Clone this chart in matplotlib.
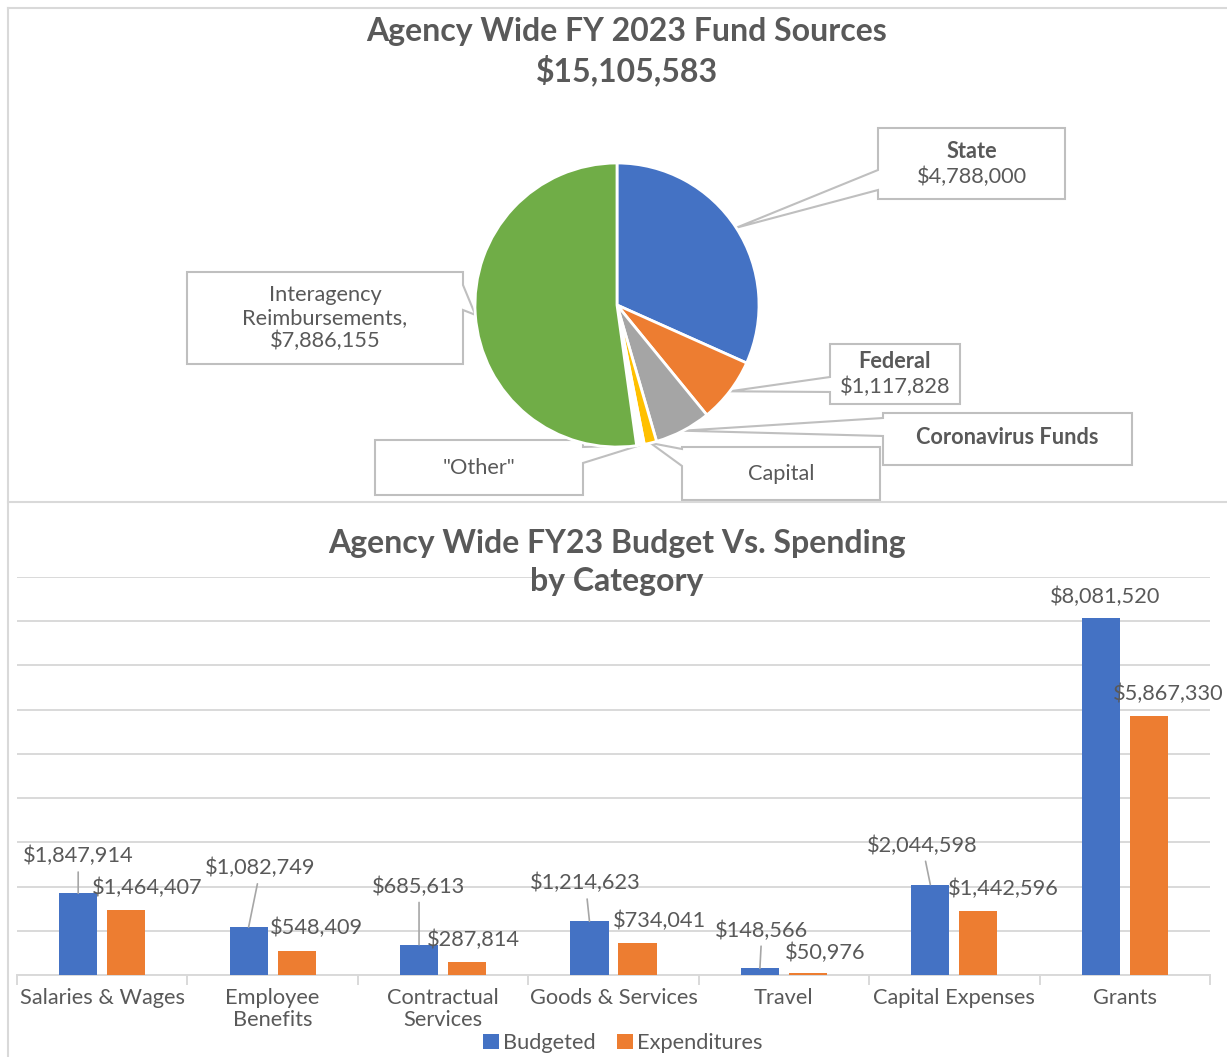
import matplotlib.pyplot as plt
import numpy as np
from matplotlib.patches import Polygon

plt.rcParams['font.family'] = ['Lato', 'DejaVu Sans']

# ---- data ----
fund_labels = ["State", "Federal", "Coronavirus Funds", "Capital", '"Other"', "Interagency Reimbursements"]
fund_values = [4788000, 1117828, 968000, 214000, 131600, 7886155]
fund_colors = ["#4472C4", "#ED7D31", "#A5A5A5", "#FFC000", "#FFFFFF", "#70AD47"]
fund_total = 15105583

categories = ["Salaries & Wages", "Employee\nBenefits", "Contractual\nServices", "Goods & Services",
              "Travel", "Capital Expenses", "Grants"]
budgeted = [1847914, 1082749, 685613, 1214623, 148566, 2044598, 8081520]
expenditures = [1464407, 548409, 287814, 734041, 50976, 1442596, 5867330]

TXT = "#595959"
LINE = "#D9D9D9"
W, H = 1227, 1057

fig = plt.figure(figsize=(W / 100, H / 100), dpi=100)

# overlay in pixel coordinates for borders, titles and callouts
ov = fig.add_axes([0, 0, 1, 1], zorder=0)
ov.set_xlim(0, W)
ov.set_ylim(H, 0)
ov.axis("off")

ov.plot([8, W], [8, 8], color=LINE, lw=1.5)
ov.plot([8, 8], [8, H], color=LINE, lw=1.5)
ov.plot([8, W], [502, 502], color=LINE, lw=1.5)

ov.text(627, 32, "Agency Wide FY 2023 Fund Sources", ha="center", va="center",
        fontsize=23, fontweight="bold", color=TXT)
ov.text(627, 70, "$" + format(fund_total, ","), ha="center", va="center",
        fontsize=23, fontweight="bold", color=TXT)

# ---- pie ----
cx, cy, r = 617, 305, 142
axp = fig.add_axes([(cx - r) / W, (H - cy - r) / H, 2 * r / W, 2 * r / H], zorder=1)
wedges, _ = axp.pie(fund_values, colors=fund_colors, startangle=90, counterclock=False,
                    wedgeprops=dict(edgecolor="white", linewidth=2))
axp.set_xlim(-1, 1)
axp.set_ylim(-1, 1)
axp.set_aspect("equal")
axp.patch.set_alpha(0)

# callout boxes: (x0, y0, x1, y1), side of pointer, pointer base on box edge
boxes = [(878, 128, 1065, 199), (830, 344, 960, 404), (883, 413, 1132, 465),
         (682, 447, 880, 500), (375, 440, 583, 495), (187, 272, 463, 364)]
sides = ["left", "left", "left", "left", "right", "right"]
bases = [(170, 190), (377, 392), (418, 436), (449, 466), (447, 463), (285, 310)]

def fmt(v):
    return "$" + format(v, ",")

for i, w in enumerate(wedges):
    mid = np.deg2rad((w.theta1 + w.theta2) / 2)
    disp = axp.transData.transform((np.cos(mid), np.sin(mid)))
    ax_, ay_ = ov.transData.inverted().transform(disp)
    x0, y0, x1, y1 = boxes[i]
    b0, b1 = bases[i]
    if sides[i] == "left":
        pts = [(x0, y0), (x1, y0), (x1, y1), (x0, y1), (x0, b1), (ax_, ay_), (x0, b0)]
    else:
        pts = [(x0, y0), (x1, y0), (x1, b0), (ax_, ay_), (x1, b1), (x1, y1), (x0, y1)]
    ov.add_patch(Polygon(pts, closed=True, facecolor="white", edgecolor="#BFBFBF", lw=1.5))

def box_center(i):
    x0, y0, x1, y1 = boxes[i]
    return (x0 + x1) / 2, (y0 + y1) / 2

fs = 15.7
for i in (0, 1):
    bx, by = box_center(i)
    ov.text(bx, by - 12, fund_labels[i], ha="center", va="center", fontsize=fs,
            fontweight="bold", color=TXT)
    ov.text(bx, by + 13, fmt(fund_values[i]), ha="center", va="center", fontsize=fs, color=TXT)
bx, by = box_center(2)
ov.text(bx, by - 1, fund_labels[2], ha="center", va="center", fontsize=fs, fontweight="bold", color=TXT)
bx, by = box_center(3)
ov.text(bx, by + 1, fund_labels[3], ha="center", va="center", fontsize=fs, color=TXT)
bx, by = box_center(4)
ov.text(bx, by + 1, fund_labels[4], ha="center", va="center", fontsize=fs, color=TXT)
bx, by = box_center(5)
ov.text(bx, by, "Interagency\nReimbursements,\n" + fmt(fund_values[5]), ha="center", va="center",
        fontsize=fs, color=TXT, linespacing=1.15)

# ---- bars ----
axb = fig.add_axes([17 / W, (H - 975) / H, 1193 / W, 398 / H], zorder=1)
x = np.arange(len(categories))
bw, off = 0.2235, 0.141
b1 = axb.bar(x - off, budgeted, bw, color="#4472C4", label="Budgeted", zorder=3)
b2 = axb.bar(x + off, expenditures, bw, color="#ED7D31", label="Expenditures", zorder=3)
axb.set_xlim(-0.5, len(categories) - 0.5)
axb.set_ylim(0, 9e6)
axb.set_yticks(np.arange(0, 9.5e6, 1e6))
axb.yaxis.grid(True, color=LINE, lw=1.4)
axb.set_axisbelow(True)
axb.tick_params(axis="y", length=0, labelleft=False)
axb.set_xticks(x)
axb.set_xticklabels(categories, fontsize=fs, color=TXT, linespacing=1.15)
axb.set_xticks(np.arange(-0.5, len(categories), 1), minor=True)
axb.tick_params(axis="x", which="major", length=0, pad=9)
axb.tick_params(axis="x", which="minor", length=7, color=LINE, width=1.4)
for s in ("top", "right", "left"):
    axb.spines[s].set_visible(False)
axb.spines["bottom"].set_color(LINE)
axb.spines["bottom"].set_linewidth(1.4)
axb.patch.set_alpha(0)

# label offsets in pixels (dx, dy above bar top)
blue_off = [(0, 37), (12, 59), (0, 58), (-4, 38), (2, 38), (-8, 39), (4, 21)]
orange_off = [(21, 22), (20, 23), (6, 22), (22, 22), (17, 20), (25, 22), (19, 22)]
k = 0.72
for i in range(len(categories)):
    dx, dy = blue_off[i]
    ap = dict(arrowstyle="-", color="#A6A6A6", lw=1.2, shrinkA=2, shrinkB=0) if dy > 30 else None
    axb.annotate(fmt(budgeted[i]), xy=(x[i] - off, budgeted[i]), xytext=(dx * k, dy * k),
                 textcoords="offset points", ha="center", va="center", fontsize=fs,
                 color=TXT, arrowprops=ap, annotation_clip=False)
    dx, dy = orange_off[i]
    axb.annotate(fmt(expenditures[i]), xy=(x[i] + off, expenditures[i]), xytext=(dx * k, dy * k),
                 textcoords="offset points", ha="center", va="center", fontsize=fs,
                 color=TXT, annotation_clip=False)

# bottom title drawn above the grid
fig.text(617 / W, 1 - 543 / H, "Agency Wide FY23 Budget Vs. Spending", ha="center", va="center",
         fontsize=23, fontweight="bold", color=TXT, zorder=5)
fig.text(617 / W, 1 - 582 / H, "by Category", ha="center", va="center",
         fontsize=23, fontweight="bold", color=TXT, zorder=5)

fig.legend(handles=[b1, b2], loc="center", bbox_to_anchor=(623 / W, 1 - 1043 / H), ncol=2,
           frameon=False, fontsize=fs, handlelength=0.7, handleheight=0.7,
           handletextpad=0.2, columnspacing=1.0, labelcolor=TXT)

fig.savefig("out.png", dpi=100)
